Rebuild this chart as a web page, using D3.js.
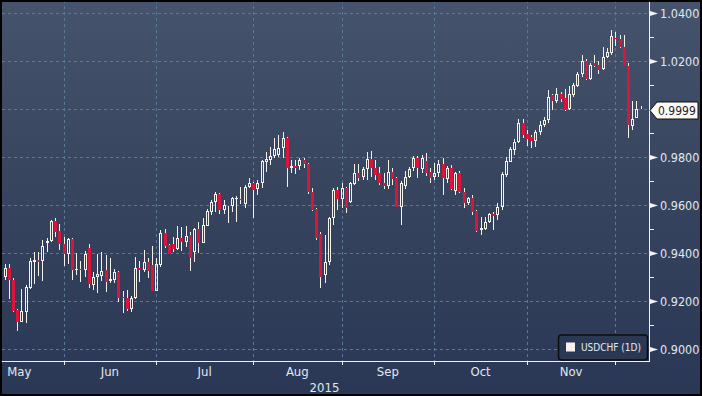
<!DOCTYPE html>
<html>
<head>
<meta charset="utf-8">
<script src="https://cdnjs.cloudflare.com/ajax/libs/d3/7.8.5/d3.min.js"></script>
<style>
  html, body { margin: 0; padding: 0; background: #2c3956; overflow: hidden; }
  #chart { width: 702px; height: 396px; }
  text { font-family: "DejaVu Sans Condensed", "Liberation Sans Narrow", sans-serif; }
</style>
</head>
<body>
<div id="chart"></div>
<script>
// USDCHF daily candles, one row per trading day: [open, high, low, close]
const may = [
  [0.9206, 0.9324, 0.9201, 0.9303], [0.9303, 0.9354, 0.9289, 0.9338], [0.9338, 0.9354, 0.9210, 0.9289],
  [0.9289, 0.9296, 0.9157, 0.9160], [0.9163, 0.9168, 0.9076, 0.9115], [0.9115, 0.9251, 0.9112, 0.9160],
  [0.9154, 0.9268, 0.9108, 0.9261], [0.9257, 0.9382, 0.9253, 0.9368], [0.9365, 0.9407, 0.9274, 0.9372],
  [0.9372, 0.9407, 0.9307, 0.9365], [0.9368, 0.9456, 0.9286, 0.9432], [0.9442, 0.9462, 0.9407, 0.9451],
  [0.9451, 0.9538, 0.9446, 0.9535], [0.9536, 0.9546, 0.9469, 0.9490], [0.9493, 0.9521, 0.9414, 0.9438]
];
const jun = [
  [0.9438, 0.9468, 0.9349, 0.9399], [0.9396, 0.9465, 0.9354, 0.9460], [0.9460, 0.9465, 0.9289, 0.9329],
  [0.9329, 0.9400, 0.9310, 0.9335], [0.9336, 0.9369, 0.9279, 0.9333], [0.9332, 0.9408, 0.9303, 0.9396],
  [0.9423, 0.9437, 0.9254, 0.9271], [0.9268, 0.9324, 0.9247, 0.9303], [0.9300, 0.9396, 0.9233, 0.9312],
  [0.9307, 0.9404, 0.9285, 0.9328], [0.9330, 0.9393, 0.9240, 0.9282], [0.9285, 0.9382, 0.9275, 0.9293],
  [0.9289, 0.9335, 0.9275, 0.9321], [0.9321, 0.9326, 0.9196, 0.9215], [0.9218, 0.9243, 0.9150, 0.9213],
  [0.9215, 0.9247, 0.9160, 0.9168], [0.9168, 0.9220, 0.9157, 0.9213], [0.9213, 0.9386, 0.9210, 0.9337],
  [0.9337, 0.9368, 0.9282, 0.9330], [0.9329, 0.9414, 0.9321, 0.9365], [0.9363, 0.9379, 0.9299, 0.9326],
  [0.9351, 0.9431, 0.9243, 0.9243]
];
const jul = [
  [0.9243, 0.9379, 0.9243, 0.9354], [0.9351, 0.9497, 0.9344, 0.9483], [0.9483, 0.9500, 0.9421, 0.9432],
  [0.9435, 0.9440, 0.9396, 0.9397], [0.9437, 0.9469, 0.9404, 0.9420], [0.9420, 0.9514, 0.9414, 0.9462],
  [0.9462, 0.9508, 0.9410, 0.9449], [0.9449, 0.9514, 0.9428, 0.9474], [0.9476, 0.9488, 0.9326, 0.9382],
  [0.9404, 0.9504, 0.9365, 0.9500], [0.9501, 0.9529, 0.9403, 0.9444], [0.9444, 0.9549, 0.9442, 0.9518],
  [0.9515, 0.9585, 0.9515, 0.9576], [0.9574, 0.9622, 0.9560, 0.9613], [0.9613, 0.9657, 0.9571, 0.9646],
  [0.9646, 0.9650, 0.9563, 0.9581], [0.9581, 0.9622, 0.9563, 0.9601], [0.9602, 0.9603, 0.9528, 0.9599],
  [0.9599, 0.9636, 0.9574, 0.9629], [0.9626, 0.9640, 0.9532, 0.9629], [0.9627, 0.9678, 0.9604, 0.9624],
  [0.9604, 0.9685, 0.9590, 0.9678], [0.9678, 0.9715, 0.9671, 0.9692]
];
const aug = [
  [0.9692, 0.9699, 0.9549, 0.9664], [0.9668, 0.9706, 0.9643, 0.9692], [0.9692, 0.9789, 0.9671, 0.9785],
  [0.9782, 0.9821, 0.9740, 0.9793], [0.9789, 0.9844, 0.9768, 0.9807], [0.9807, 0.9882, 0.9796, 0.9835],
  [0.9810, 0.9893, 0.9803, 0.9838], [0.9838, 0.9907, 0.9799, 0.9879], [0.9879, 0.9886, 0.9678, 0.9754],
  [0.9754, 0.9790, 0.9733, 0.9763], [0.9763, 0.9788, 0.9730, 0.9754], [0.9765, 0.9799, 0.9747, 0.9788],
  [0.9788, 0.9799, 0.9754, 0.9771], [0.9771, 0.9775, 0.9646, 0.9654], [0.9654, 0.9671, 0.9576, 0.9581],
  [0.9585, 0.9590, 0.9456, 0.9463], [0.9480, 0.9487, 0.9256, 0.9301], [0.9310, 0.9475, 0.9278, 0.9365],
  [0.9365, 0.9553, 0.9350, 0.9547], [0.9547, 0.9671, 0.9518, 0.9664], [0.9664, 0.9678, 0.9580, 0.9625]
];
const sep = [
  [0.9625, 0.9692, 0.9588, 0.9671], [0.9671, 0.9678, 0.9570, 0.9587], [0.9615, 0.9699, 0.9608, 0.9694],
  [0.9689, 0.9772, 0.9685, 0.9733], [0.9733, 0.9772, 0.9703, 0.9712], [0.9717, 0.9761, 0.9706, 0.9750],
  [0.9750, 0.9824, 0.9706, 0.9792], [0.9792, 0.9828, 0.9717, 0.9754], [0.9754, 0.9788, 0.9706, 0.9726],
  [0.9733, 0.9761, 0.9685, 0.9692], [0.9694, 0.9733, 0.9670, 0.9680], [0.9680, 0.9788, 0.9670, 0.9737],
  [0.9737, 0.9754, 0.9684, 0.9710], [0.9712, 0.9719, 0.9594, 0.9594], [0.9594, 0.9703, 0.9519, 0.9692],
  [0.9680, 0.9741, 0.9670, 0.9717], [0.9717, 0.9758, 0.9712, 0.9750], [0.9754, 0.9806, 0.9741, 0.9796],
  [0.9796, 0.9806, 0.9712, 0.9754], [0.9750, 0.9810, 0.9733, 0.9796], [0.9785, 0.9819, 0.9722, 0.9736],
  [0.9740, 0.9754, 0.9692, 0.9715]
];
const oct = [
  [0.9717, 0.9775, 0.9706, 0.9733], [0.9733, 0.9789, 0.9717, 0.9772], [0.9772, 0.9796, 0.9643, 0.9712],
  [0.9708, 0.9764, 0.9692, 0.9754], [0.9754, 0.9768, 0.9664, 0.9667], [0.9661, 0.9740, 0.9643, 0.9733],
  [0.9733, 0.9744, 0.9653, 0.9657], [0.9657, 0.9671, 0.9588, 0.9611], [0.9611, 0.9633, 0.9601, 0.9629],
  [0.9629, 0.9643, 0.9560, 0.9574], [0.9576, 0.9581, 0.9490, 0.9494], [0.9497, 0.9550, 0.9476, 0.9507],
  [0.9500, 0.9550, 0.9497, 0.9532], [0.9532, 0.9569, 0.9525, 0.9564], [0.9564, 0.9574, 0.9497, 0.9557],
  [0.9560, 0.9608, 0.9539, 0.9594], [0.9594, 0.9740, 0.9581, 0.9731], [0.9726, 0.9803, 0.9717, 0.9785],
  [0.9782, 0.9844, 0.9782, 0.9833], [0.9831, 0.9875, 0.9810, 0.9865], [0.9865, 0.9958, 0.9858, 0.9944],
  [0.9944, 0.9958, 0.9880, 0.9895]
];
const nov = [
  [0.9897, 0.9914, 0.9845, 0.9878], [0.9883, 0.9893, 0.9837, 0.9869], [0.9869, 0.9914, 0.9844, 0.9907],
  [0.9907, 0.9953, 0.9893, 0.9933], [0.9933, 0.9969, 0.9925, 0.9956], [0.9956, 1.0080, 0.9944, 1.0053],
  [1.0060, 1.0064, 0.9997, 1.0036], [1.0036, 1.0088, 1.0025, 1.0064], [1.0064, 1.0074, 1.0032, 1.0042],
  [1.0046, 1.0083, 0.9994, 0.9997], [1.0000, 1.0097, 0.9997, 1.0064], [1.0060, 1.0111, 1.0050, 1.0101],
  [1.0099, 1.0157, 1.0094, 1.0147], [1.0147, 1.0226, 1.0133, 1.0203], [1.0203, 1.0208, 1.0122, 1.0126],
  [1.0126, 1.0192, 1.0122, 1.0185], [1.0194, 1.0226, 1.0178, 1.0182], [1.0185, 1.0203, 1.0147, 1.0164],
  [1.0167, 1.0261, 1.0164, 1.0217], [1.0217, 1.0254, 1.0213, 1.0239], [1.0236, 1.0331, 1.0226, 1.0306]
];
const dec = [
  [1.0299, 1.0324, 1.0264, 1.0292], [1.0293, 1.0310, 1.0254, 1.0258], [1.0258, 1.0310, 1.0180, 1.0182],
  [1.0182, 1.0192, 0.9879, 0.9933], [0.9931, 1.0035, 0.9914, 0.9961], [0.9965, 1.0035, 0.9963, 1.0001],
  [1.0003, 1.0014, 0.9997, 0.9999]
];

const firstDay = "2015-05-11";          // first (half hidden) candle
const priceTicks = [0.90, 0.92, 0.94, 0.96, 0.98, 1.00, 1.02, 1.04];
const minorTicks = [0.91, 0.93, 0.95, 0.97, 0.99, 1.01, 1.03];
const monthLabels = ["May", "Jun", "Jul", "Aug", "Sep", "Oct", "Nov"];
const yearLabel = "2015";
const lastPrice = 0.9999;
const seriesName = "USDCHF (1D)";

const width = 702, height = 396;
const plot = { left: 2, right: 649, top: 0, bottom: 361 };

const gridColor = "#5d7896";
const axisColor = "#f2f2f2";
const labelColor = "#e1e8f0";
const upColor = "#f5f2ea";
const downColor = "#dc143c";

const candles = [].concat(may, jun, jul, aug, sep, oct, nov, dec);

// trading days = weekdays, starting at firstDay
const parseDate = d3.timeParse("%Y-%m-%d");
const isWeekday = d => d.getDay() !== 0 && d.getDay() !== 6;
const dates = [];
for (let d = parseDate(firstDay); dates.length < candles.length; d = d3.timeDay.offset(d, 1)) {
    if (isWeekday(d)) dates.push(d);
}
const data = candles.map((c, i) => ({ date: dates[i], i: i, open: c[0], high: c[1], low: c[2], close: c[3] }));

// position of any date on the trading-day axis (negative before the first candle)
function dayIndex(date) {
    const start = dates[0];
    const before = date < start;
    const n = d3.timeDay.range(before ? date : start, before ? start : date).filter(isWeekday).length;
    return before ? -n : n;
}
function firstTradingDay(year, month) {
    let d = new Date(year, month, 1);
    while (!isWeekday(d)) d = d3.timeDay.offset(d, 1);
    return d;
}

const x = d3.scaleLinear().domain([0, candles.length - 1]).range([0.35, 640.6]);
const y = d3.scaleLinear().domain([0.90, 1.04]).range([349.3, 13.3]);
const snap = v => Math.round(v) + 0.5;

const svg = d3.select("#chart")
    .append("svg")
    .attr("width", width)
    .attr("height", height);

const defs = svg.append("defs");
const grad = defs.append("linearGradient")
    .attr("id", "bg")
    .attr("x1", 0).attr("y1", 0).attr("x2", 0).attr("y2", 1);
grad.append("stop").attr("offset", "0%").attr("stop-color", "#45536c");
grad.append("stop").attr("offset", "45%").attr("stop-color", "#37455f");
grad.append("stop").attr("offset", "90%").attr("stop-color", "#2d3a57");
grad.append("stop").attr("offset", "100%").attr("stop-color", "#2b3855");

defs.append("clipPath").attr("id", "plotClip")
    .append("rect")
    .attr("x", plot.left).attr("y", plot.top)
    .attr("width", plot.right - plot.left).attr("height", plot.bottom - plot.top);

svg.append("rect")
    .attr("width", width).attr("height", height)
    .attr("fill", "url(#bg)");

// month starts (May is partly before the first candle, Dec is the last one)
const monthStarts = d3.range(4, 13).map(m => dayIndex(firstTradingDay(2015, m)));
const gridMonths = monthStarts.slice(1, 8);   // Jun .. Dec

// gridlines
const grid = svg.append("g")
    .attr("stroke", gridColor)
    .attr("stroke-dasharray", "3,3")
    .attr("fill", "none");

grid.selectAll("line.h")
    .data(priceTicks)
    .join("line")
    .attr("class", "h")
    .attr("x1", plot.left).attr("x2", plot.right)
    .attr("y1", d => snap(y(d))).attr("y2", d => snap(y(d)));

grid.selectAll("line.v")
    .data(gridMonths)
    .join("line")
    .attr("class", "v")
    .attr("x1", d => snap(x(d))).attr("x2", d => snap(x(d)))
    .attr("y1", plot.top).attr("y2", plot.bottom);

// candles
const cg = svg.append("g").attr("clip-path", "url(#plotClip)");

const candle = cg.selectAll("g")
    .data(data)
    .join("g");

candle.each(function (d) {
    const g = d3.select(this);
    const cx = snap(x(d.i));
    const up = d.close >= d.open;
    const yt = Math.round(y(Math.max(d.open, d.close)));
    const yb = Math.round(y(Math.min(d.open, d.close)));
    const yh = Math.round(y(d.high));
    const yl = Math.round(y(d.low));

    // wicks above and below the body
    if (yh < yt) {
        g.append("line").attr("x1", cx).attr("x2", cx).attr("y1", yh).attr("y2", yt)
            .attr("stroke", upColor).attr("stroke-width", 1);
    }
    if (yl > yb) {
        g.append("line").attr("x1", cx).attr("x2", cx).attr("y1", yb).attr("y2", yl)
            .attr("stroke", upColor).attr("stroke-width", 1);
    }

    if (!up) {
        g.append("rect")
            .attr("x", cx - 1.5).attr("y", yt)
            .attr("width", 3).attr("height", Math.max(1, yb - yt))
            .attr("fill", downColor);
    } else if (yb - yt < 3) {
        g.append("rect")
            .attr("x", cx - 1.5).attr("y", yt)
            .attr("width", 3).attr("height", Math.max(1, yb - yt))
            .attr("fill", upColor);
    } else {
        // hollow white body
        g.append("rect")
            .attr("x", cx - 1).attr("y", yt + 0.5)
            .attr("width", 2).attr("height", yb - yt - 1)
            .attr("fill", "none")
            .attr("stroke", upColor).attr("stroke-width", 1);
    }
});

// axes lines
svg.append("line")
    .attr("x1", snap(plot.right)).attr("x2", snap(plot.right))
    .attr("y1", 0).attr("y2", snap(plot.bottom) + 0.5)
    .attr("stroke", axisColor);
svg.append("line")
    .attr("x1", 0).attr("x2", snap(plot.right))
    .attr("y1", snap(plot.bottom)).attr("y2", snap(plot.bottom))
    .attr("stroke", axisColor);

// right axis
const ra = svg.append("g");
ra.selectAll("line")
    .data(minorTicks)
    .join("line")
    .attr("x1", plot.right).attr("x2", plot.right + 5)
    .attr("y1", d => snap(y(d))).attr("y2", d => snap(y(d)))
    .attr("stroke", axisColor);

const shownTicks = priceTicks.filter(t => Math.abs(t - lastPrice) > 0.004);
ra.selectAll("path")
    .data(shownTicks)
    .join("path")
    .attr("d", d => {
        const yy = Math.round(y(d)) + 0.5;
        return `M${plot.right + 1},${yy - 2.5}L${plot.right + 9},${yy}L${plot.right + 1},${yy + 2.5}Z`;
    })
    .attr("fill", axisColor);

ra.selectAll("text")
    .data(shownTicks)
    .join("text")
    .attr("x", plot.right + 11)
    .attr("y", d => y(d))
    .attr("dy", "0.36em")
    .attr("font-size", "12.5px")
    .attr("fill", labelColor)
    .text(d => d3.format(".4f")(d));

// bottom axis
const ba = svg.append("g");
ba.selectAll("line")
    .data(gridMonths)
    .join("line")
    .attr("x1", d => snap(x(d))).attr("x2", d => snap(x(d)))
    .attr("y1", plot.bottom).attr("y2", plot.bottom + 4)
    .attr("stroke", axisColor);

ba.selectAll("text.month")
    .data(monthLabels)
    .join("text")
    .attr("class", "month")
    .attr("x", (d, k) => x((monthStarts[k] + monthStarts[k + 1]) / 2))
    .attr("y", 376)
    .attr("text-anchor", "middle")
    .attr("font-size", "13px")
    .attr("fill", labelColor)
    .text(d => d);

ba.append("text")
    .attr("x", plot.right / 2)
    .attr("y", 392)
    .attr("text-anchor", "middle")
    .attr("font-size", "13px")
    .attr("fill", labelColor)
    .text(yearLabel);

// legend
const lg = svg.append("g");
lg.append("rect")
    .attr("x", 558.5).attr("y", 335)
    .attr("width", 89).attr("height", 25)
    .attr("rx", 3)
    .attr("fill", "#2b3854")
    .attr("stroke", "#0c0c0c")
    .attr("stroke-width", 1.5);
lg.append("rect")
    .attr("x", 566).attr("y", 342.5)
    .attr("width", 9).attr("height", 9)
    .attr("fill", "#fbf0ea");
lg.append("text")
    .attr("x", 581).attr("y", 351)
    .attr("font-size", "10px")
    .attr("fill", "#e6ebf2")
    .text(seriesName);

// last price flag
const ly = Math.round(y(lastPrice)) + 0.5;
svg.append("path")
    .attr("d", `M${plot.right + 1},${ly}L${plot.right + 8},${ly - 8.5}L698,${ly - 8.5}L698,${ly + 8.5}L${plot.right + 8},${ly + 8.5}Z`)
    .attr("fill", "#fdfaf3")
    .attr("stroke", "#111")
    .attr("stroke-width", 1);
svg.append("text")
    .attr("x", plot.right + 9)
    .attr("y", ly)
    .attr("dy", "0.36em")
    .attr("font-size", "12px")
    .attr("fill", "#1c2435")
    .text(d3.format(".4f")(lastPrice));

// frame
svg.append("rect")
    .attr("x", 1).attr("y", 1)
    .attr("width", width - 2).attr("height", height - 2)
    .attr("fill", "none")
    .attr("stroke", "#000")
    .attr("stroke-width", 2);
</script>
</body>
</html>
